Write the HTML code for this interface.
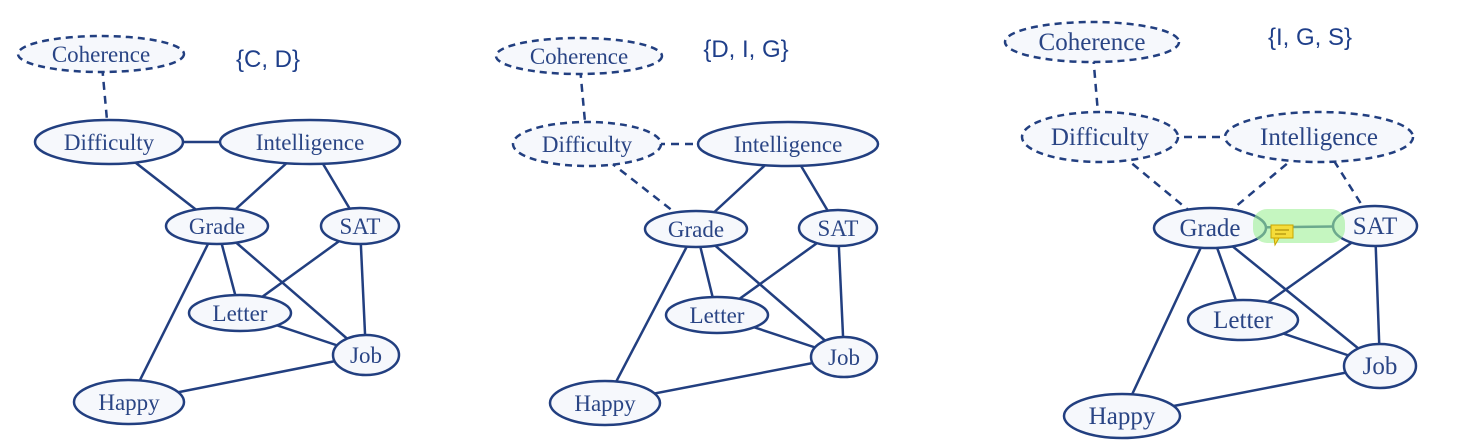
<!DOCTYPE html>
<html><head><meta charset="utf-8"><style>
html,body{margin:0;padding:0;background:#fff;width:1469px;height:445px;overflow:hidden}
</style></head><body>
<svg id="s" width="1469" height="445" viewBox="0 0 1469 445" xmlns="http://www.w3.org/2000/svg">
<g id="edges" stroke="#223f80" stroke-width="2.5" fill="none"></g>
<g id="nodes"></g>
<rect x="1253" y="209" width="92" height="34" rx="14" fill="#9ef096" opacity="0.6"/>
<text x="268" y="67" font-family="Liberation Sans, sans-serif" font-size="24" fill="#1f3f8a" text-anchor="middle">{C, D}</text>
<text x="746" y="57" font-family="Liberation Sans, sans-serif" font-size="24" fill="#1f3f8a" text-anchor="middle">{D, I, G}</text>
<text x="1310" y="45" font-family="Liberation Sans, sans-serif" font-size="24" fill="#1f3f8a" text-anchor="middle">{I, G, S}</text>
<g id="bubble"><rect x="1271" y="225" width="22" height="13" fill="#f5dc3a" stroke="#c9a500" stroke-width="1"/><polygon points="1274,238 1279,238 1275,245" fill="#f5dc3a" stroke="#c9a500" stroke-width="1"/><line x1="1275" y1="230" x2="1289" y2="230" stroke="#a08000"/><line x1="1275" y1="234" x2="1286" y2="234" stroke="#a08000"/></g>
</svg>
<script>
const NS="http://www.w3.org/2000/svg";
const panels=[
 {n:{C:[101,54,83,18,"Coherence"],D:[109,142,74,22,"Difficulty"],I:[310,142,90,22,"Intelligence"],G:[217,226,51,18,"Grade"],S:[360,226,39,18,"SAT"],L:[240,313,51,18,"Letter"],J:[366,355,33,20,"Job"],H:[129,402,55,22,"Happy"]},dn:["C"],de:["CD"]},
 {n:{C:[579,56,83,18,"Coherence"],D:[587,144,74,22,"Difficulty"],I:[788,144,90,22,"Intelligence"],G:[696,229,51,18,"Grade"],S:[838,228,39,18,"SAT"],L:[717,315,51,18,"Letter"],J:[844,357,33,20,"Job"],H:[605,403,55,22,"Happy"]},dn:["C","D"],de:["CD","DI","DG"]},
 {n:{C:[1092,42,87,20,"Coherence"],D:[1100,137,78,25,"Difficulty"],I:[1319,137,94,25,"Intelligence"],G:[1210,228,56,20,"Grade"],S:[1375,226,42,20,"SAT"],L:[1243,320,55,20,"Letter"],J:[1380,366,36,22,"Job"],H:[1122,416,58,22,"Happy"]},dn:["C","D","I"],de:["CD","DI","DG","IG","IS"],extra:["GS"]}
];
const E=["CD","DI","DG","IG","IS","GL","GJ","GH","SL","SJ","LJ","JH"];
const eg=document.getElementById("edges"),ng=document.getElementById("nodes");
panels.forEach((p,pi)=>{
 E.concat(p.extra||[]).forEach(e=>{
  const a=p.n[e[0]],b=p.n[e[1]];
  const l=document.createElementNS(NS,"line");
  l.setAttribute("x1",a[0]);l.setAttribute("y1",a[1]);l.setAttribute("x2",b[0]);l.setAttribute("y2",b[1]);
  if(p.de.includes(e))l.setAttribute("stroke-dasharray","8,6");
  eg.appendChild(l);
 });
 for(const k in p.n){
  const v=p.n[k];
  const el=document.createElementNS(NS,"ellipse");
  el.setAttribute("cx",v[0]);el.setAttribute("cy",v[1]);el.setAttribute("rx",v[2]);el.setAttribute("ry",v[3]);
  el.setAttribute("fill","#f6f8fc");
  el.setAttribute("stroke","#223f80");el.setAttribute("stroke-width","2.5");
  if(p.dn.includes(k))el.setAttribute("stroke-dasharray","7,5");
  ng.appendChild(el);
  const t=document.createElementNS(NS,"text");
  const fs=pi==2?25:23;
  t.setAttribute("x",v[0]);t.setAttribute("y",v[1]+8);t.setAttribute("text-anchor","middle");
  t.setAttribute("font-family","Liberation Serif, serif");t.setAttribute("font-size",fs);
  t.setAttribute("fill","#2a4585");t.textContent=v[4];
  ng.appendChild(t);
 }
});
</script>
</body></html>
